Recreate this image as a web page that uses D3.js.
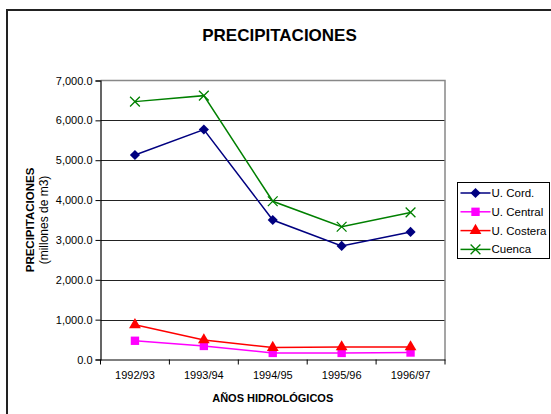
<!DOCTYPE html>
<html>
<head>
<meta charset="utf-8">
<script src="https://cdn.jsdelivr.net/npm/d3@7"></script>
<style>
  html, body { margin: 0; padding: 0; background: #fff; }
  svg { display: block; font-family: "Liberation Sans", Arial, sans-serif; }
</style>
</head>
<body>
<div id="chart"></div>
<script>
// Data
const years = ["1992/93", "1993/94", "1994/95", "1995/96", "1996/97"];
const uCord = [5130, 5770, 3500, 2850, 3200];
const uCentral = [470, 340, 165, 165, 175];
const uCostera = [870, 490, 300, 315, 315];
const cuenca = [6470, 6620, 3970, 3330, 3690];
const yTicks = [0, 1000, 2000, 3000, 4000, 5000, 6000, 7000];

const series = [
    { name: "U. Cord.", values: uCord, color: "#000080", marker: "diamond" },
    { name: "U. Central", values: uCentral, color: "#FF00FF", marker: "square" },
    { name: "U. Costera", values: uCostera, color: "#FF0000", marker: "triangle" },
    { name: "Cuenca", values: cuenca, color: "#008000", marker: "cross" }
];

const W = 551, H = 414;
const plot = { left: 100.5, right: 445, top: 80.5, bottom: 359.5 };

const svg = d3.select("#chart").append("svg")
    .attr("width", W)
    .attr("height", H);

// outer chart border (runs off the right and bottom edge like the original)
svg.append("rect")
    .attr("x", 7).attr("y", 10)
    .attr("width", 560).attr("height", 420)
    .attr("fill", "#fff")
    .attr("stroke", "#222")
    .attr("stroke-width", 2);

const x = d3.scaleBand().domain(years).range([plot.left, plot.right]);
const y = d3.scaleLinear().domain([0, 7000]).range([plot.bottom, plot.top]);

// gridlines
svg.append("g")
    .selectAll("line")
    .data(yTicks.filter(d => d > 0 && d < 7000))
    .join("line")
    .attr("x1", plot.left).attr("x2", plot.right)
    .attr("y1", d => Math.round(y(d)) + 0.5).attr("y2", d => Math.round(y(d)) + 0.5)
    .attr("stroke", "#222")
    .attr("stroke-width", 1);

// plot frame top / right in grey
svg.append("path")
    .attr("d", `M${plot.left},${plot.top}H${plot.right}V${plot.bottom}`)
    .attr("fill", "none")
    .attr("stroke", "#888")
    .attr("stroke-width", 1.5);

// y axis
const yAxis = svg.append("g")
    .attr("transform", `translate(${plot.left},0)`)
    .call(d3.axisLeft(y).tickValues(yTicks).tickFormat(d3.format(",.1f")).tickSize(5).tickPadding(3));
yAxis.select(".domain").attr("stroke", "#000").attr("stroke-width", 1.2);
yAxis.selectAll(".tick line").attr("stroke", "#000");
yAxis.selectAll("text").attr("font-size", "11px").attr("fill", "#000")
    .attr("font-family", "Liberation Sans, Arial, sans-serif");

// x axis: labels at band centres, ticks at band edges
const xAxis = svg.append("g")
    .attr("transform", `translate(0,${plot.bottom})`)
    .call(d3.axisBottom(x).tickSize(0).tickPadding(12));
xAxis.select(".domain").attr("stroke", "#000").attr("stroke-width", 1.2);
xAxis.selectAll("text").attr("font-size", "11px").attr("fill", "#000")
    .attr("font-family", "Liberation Sans, Arial, sans-serif");

const edges = years.map(d => x(d)).concat([x(years[years.length - 1]) + x.bandwidth()]);
svg.append("g")
    .selectAll("line")
    .data(edges)
    .join("line")
    .attr("x1", d => d).attr("x2", d => d)
    .attr("y1", plot.bottom).attr("y2", plot.bottom + 5)
    .attr("stroke", "#000");

// markers
const markerPath = {
    diamond: d3.symbol().type(d3.symbolDiamond2).size(66),
    square: d3.symbol().type(d3.symbolSquare).size(70),
    triangle: d3.symbol().type(d3.symbolTriangle).size(60),
    cross: d3.symbol().type(d3.symbolX).size(64)
};

function drawMarker(g, s) {
    const p = g.append("path").attr("d", markerPath[s.marker]());
    if (s.marker === "cross") {
        p.attr("fill", "none").attr("stroke", s.color).attr("stroke-width", 1.3);
    } else {
        p.attr("fill", s.color).attr("stroke", "none");
    }
    return p;
}

const line = d3.line()
    .x((d, i) => x(years[i]) + x.bandwidth() / 2)
    .y(d => y(d));

series.forEach(s => {
    svg.append("path")
        .attr("d", line(s.values))
        .attr("fill", "none")
        .attr("stroke", s.color)
        .attr("stroke-width", 1.5);
    s.values.forEach((v, i) => {
        const g = svg.append("g")
            .attr("transform", `translate(${x(years[i]) + x.bandwidth() / 2},${y(v)})`);
        drawMarker(g, s);
    });
});

// titles
svg.append("text")
    .attr("x", 279.5).attr("y", 41)
    .attr("text-anchor", "middle")
    .attr("font-size", "17px").attr("font-weight", "bold")
    .text("PRECIPITACIONES");

svg.append("text")
    .attr("x", (plot.left + plot.right) / 2).attr("y", 401.5)
    .attr("text-anchor", "middle")
    .attr("font-size", "11px").attr("font-weight", "bold")
    .text("AÑOS HIDROLÓGICOS");

const yMid = (plot.top + plot.bottom) / 2;
svg.append("text")
    .attr("transform", `translate(34,${yMid}) rotate(-90)`)
    .attr("text-anchor", "middle")
    .attr("font-size", "11.5px").attr("font-weight", "bold")
    .text("PRECIPITACIONES");
svg.append("text")
    .attr("transform", `translate(47.5,${yMid}) rotate(-90)`)
    .attr("text-anchor", "middle")
    .attr("font-size", "12px")
    .text("(millones de m3)");

// legend
const legend = svg.append("g").attr("transform", "translate(457.5,182.5)");
legend.append("rect")
    .attr("width", 92).attr("height", 76)
    .attr("fill", "#fff").attr("stroke", "#000").attr("stroke-width", 1);

series.forEach((s, i) => {
    const row = legend.append("g").attr("transform", `translate(0,${10.5 + i * 18.8})`);
    row.append("line")
        .attr("x1", 3).attr("x2", 33)
        .attr("stroke", s.color).attr("stroke-width", 1.5);
    const m = row.append("g").attr("transform", "translate(18,0)");
    drawMarker(m, s);
    row.append("text")
        .attr("x", 34).attr("y", 4)
        .attr("font-size", "11.5px")
        .text(s.name);
});
</script>
</body>
</html>
